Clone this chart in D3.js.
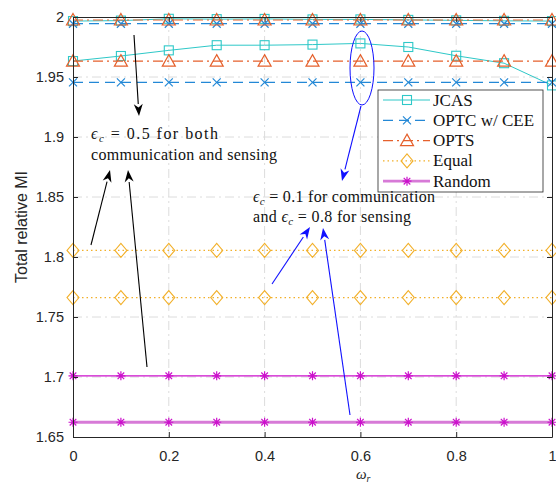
<!DOCTYPE html>
<html><head><meta charset="utf-8">
<script src="https://cdn.jsdelivr.net/npm/d3@7"></script>
<style>body{margin:0;background:#fff}svg{display:block}</style>
</head><body><svg id="c" width="556" height="485"></svg>
<script>
// ---- data ----
const omega = [0,0.1,0.2,0.3,0.4,0.5,0.6,0.7,0.8,0.9,1];
const xTicks = [0,0.2,0.4,0.6,0.8,1];
const xTickLabels = ["0","0.2","0.4","0.6","0.8","1"];
const yTicks = [1.65,1.7,1.75,1.8,1.85,1.9,1.95,2];
const yTickLabels = ["1.65","1.7","1.75","1.8","1.85","1.9","1.95","2"];
const seriesNames = ["JCAS","OPTC w/ CEE","OPTS","Equal","Random"];
// eps_c = 0.5 (upper group) and eps_c = 0.1/0.8 (lower group)
const jcasA   = [1.9966,1.9970,1.9985,1.9982,1.9984,1.9980,1.9980,1.9976,1.9972,1.9968,1.9966];
const jcasB   = [1.9633,1.9675,1.9722,1.9765,1.9765,1.9770,1.9780,1.9750,1.9677,1.9615,1.9430];
const optcA   = [1.9944,1.9944,1.9944,1.9944,1.9944,1.9944,1.9944,1.9944,1.9944,1.9944,1.9944];
const optcB   = [1.9455,1.9455,1.9455,1.9455,1.9455,1.9455,1.9455,1.9455,1.9455,1.9455,1.9455];
const optsA   = [1.9975,1.9975,1.9975,1.9975,1.9975,1.9975,1.9975,1.9975,1.9975,1.9975,1.9975];
const optsB   = [1.9632,1.9632,1.9632,1.9632,1.9632,1.9632,1.9632,1.9632,1.9632,1.9632,1.9632];
const equalA  = [1.8055,1.8055,1.8055,1.8055,1.8055,1.8055,1.8055,1.8055,1.8055,1.8055,1.8055];
const equalB  = [1.7662,1.7662,1.7662,1.7662,1.7662,1.7662,1.7662,1.7662,1.7662,1.7662,1.7662];
const randomA = [1.7010,1.7010,1.7010,1.7010,1.7010,1.7010,1.7010,1.7010,1.7010,1.7010,1.7010];
const randomB = [1.6623,1.6623,1.6623,1.6623,1.6623,1.6623,1.6623,1.6623,1.6623,1.6623,1.6623];

// ---- layout ----
const svg = d3.select("#c");
const L = 73, R = 552, T = 17, B = 437;
const x = d3.scaleLinear().domain([0,1]).range([L,R]);
const y = d3.scaleLinear().domain([1.65,2]).range([B,T]);

const C = {jcas:"#2ec8c8", optc:"#2388d6", opts:"#e5602c", equal:"#f2b02a", rand:"#cc11cc", randL:"#d77ad7"};

// grid
const grid = svg.append("g");
grid.selectAll(".gx").data(xTicks.slice(1,-1)).join("line")
  .attr("x1",d=>x(d)).attr("x2",d=>x(d)).attr("y1",T).attr("y2",B)
  .attr("stroke","#dcdcdc").attr("stroke-dasharray","9,4,2,4");
grid.selectAll(".gy").data(yTicks.slice(1,-1)).join("line")
  .attr("y1",d=>y(d)).attr("y2",d=>y(d)).attr("x1",L).attr("x2",R)
  .attr("stroke","#dcdcdc").attr("stroke-dasharray","9,4,2,4");

// markers
function marker(g, type, cx, cy, col){
  if(type==="square"){
    g.append("rect").attr("x",cx-4.5).attr("y",cy-4.5).attr("width",9).attr("height",9)
      .attr("fill","none").attr("stroke",col).attr("stroke-width",1.1);
  } else if(type==="x"){
    g.append("path").attr("d",`M${cx-4},${cy-4}L${cx+4},${cy+4}M${cx-4},${cy+4}L${cx+4},${cy-4}`)
      .attr("stroke",col).attr("stroke-width",1.2);
  } else if(type==="tri"){
    g.append("path").attr("d",`M${cx},${cy-6.5}L${cx+6.5},${cy+5}L${cx-6.5},${cy+5}Z`)
      .attr("fill","none").attr("stroke",col).attr("stroke-width",1.2);
  } else if(type==="diamond"){
    g.append("path").attr("d",`M${cx},${cy-7}L${cx+6},${cy}L${cx},${cy+7}L${cx-6},${cy}Z`)
      .attr("fill","none").attr("stroke",col).attr("stroke-width",1.1);
  } else if(type==="star"){
    g.append("path").attr("d",`M${cx-4.5},${cy}L${cx+4.5},${cy}M${cx},${cy-4.5}L${cx},${cy+4.5}M${cx-3.3},${cy-3.3}L${cx+3.3},${cy+3.3}M${cx-3.3},${cy+3.3}L${cx+3.3},${cy-3.3}`)
      .attr("stroke",col).attr("stroke-width",1.2);
  }
}
const lineGen = d3.line().x((d,i)=>x(omega[i])).y(d=>y(d));
function series(vals, col, dash, width, mtype, mcol){
  const g = svg.append("g");
  g.append("path").attr("d",lineGen(vals)).attr("fill","none").attr("stroke",col)
    .attr("stroke-width",width).attr("stroke-dasharray",dash||null);
  vals.forEach((v,i)=>marker(g, mtype, x(omega[i]), y(v), mcol||col));
}
series(jcasA, C.jcas, null, 1, "square");
series(jcasB, C.jcas, null, 1, "square");
series(optcA, C.optc, "10,6", 1.2, "x");
series(optcB, C.optc, "10,6", 1.2, "x");
series(optsA, C.opts, "10,4,2,4", 1.2, "tri");
series(optsB, C.opts, "10,4,2,4", 1.2, "tri");
series(equalA, C.equal, "1.5,3", 1.3, "diamond");
series(equalB, C.equal, "1.5,3", 1.3, "diamond");
series(randomA, C.rand, null, 1.2, "star");
series(randomB, C.randL, null, 2.8, "star", C.rand);

// axes (box, inward ticks, mirrored)
const ax = svg.append("g");
ax.append("g").attr("transform",`translate(0,${B})`)
  .call(d3.axisBottom(x).tickValues(xTicks).tickFormat((d,i)=>xTickLabels[i]).tickSizeInner(-5).tickSizeOuter(0).tickPadding(14));
ax.append("g").attr("transform",`translate(0,${T})`)
  .call(d3.axisTop(x).tickValues(xTicks).tickFormat("").tickSizeInner(-5).tickSizeOuter(0));
ax.append("g").attr("transform",`translate(${L},0)`)
  .call(d3.axisLeft(y).tickValues(yTicks).tickFormat((d,i)=>yTickLabels[i]).tickSizeInner(-5).tickSizeOuter(0).tickPadding(9));
ax.append("g").attr("transform",`translate(${R},0)`)
  .call(d3.axisRight(y).tickValues(yTicks).tickFormat("").tickSizeInner(-5).tickSizeOuter(0));
ax.selectAll(".domain").attr("stroke","#262626");
ax.selectAll(".tick line").attr("stroke","#262626");
ax.selectAll(".tick text").attr("font-family","'Liberation Sans',Arial,sans-serif").attr("font-size",14.5).attr("fill","#262626");

// axis labels
svg.append("text").attr("transform",`translate(27,${(T+B)/2}) rotate(-90)`)
  .attr("text-anchor","middle").attr("font-family","'Liberation Sans',Arial,sans-serif")
  .attr("font-size",16).attr("fill","#262626").text("Total relative MI");
const xl = svg.append("text").attr("x",356).attr("y",479).attr("font-family","'Liberation Serif',serif")
  .attr("font-size",15).attr("fill","#262626");
xl.append("tspan").attr("font-style","italic").text("ω");
xl.append("tspan").attr("font-style","italic").attr("font-size",10).attr("dy",3).text("r");

// legend
const lg = svg.append("g");
lg.append("rect").attr("x",378).attr("y",90).attr("width",165).attr("height",102)
  .attr("fill","#fff").attr("stroke","#262626").attr("stroke-width",0.8);
const legItems = [
  {col:C.jcas, dash:null, w:1, m:"square"},
  {col:C.optc, dash:"10,6", w:1.2, m:"x"},
  {col:C.opts, dash:"10,4,2,4", w:1.2, m:"tri"},
  {col:C.equal, dash:"1.5,3", w:1.3, m:"diamond"},
  {col:C.randL, dash:null, w:2.8, m:"star", mc:C.rand}
];
legItems.forEach((it,i)=>{
  const yy = 100 + i*20.3;
  lg.append("line").attr("x1",383).attr("x2",430).attr("y1",yy).attr("y2",yy)
    .attr("stroke",it.col).attr("stroke-width",it.w).attr("stroke-dasharray",it.dash);
  marker(lg, it.m, 407, yy, it.mc||it.col);
  lg.append("text").attr("x",433).attr("y",yy+5.5).attr("font-family","'Liberation Serif',serif")
    .attr("font-size",17).attr("fill","#111").text(seriesNames[i]);
});

// annotations
function eqText(xp, yp, before, after, len){
  const t = svg.append("text").attr("x",xp).attr("y",yp).attr("font-family","'Liberation Serif',serif")
    .attr("font-size",16).attr("fill","#111")
    .attr("textLength",len).attr("lengthAdjust","spacing");
  if(before) t.append("tspan").text(before);
  t.append("tspan").attr("font-style","italic").text("ϵ");
  t.append("tspan").attr("font-style","italic").attr("font-size",11).attr("dy",3).text("c");
  t.append("tspan").attr("dy",-3).text(after);
}
function plainText(xp, yp, s, len){
  svg.append("text").attr("x",xp).attr("y",yp).attr("font-family","'Liberation Serif',serif")
    .attr("font-size",16).attr("fill","#111")
    .attr("textLength",len).attr("lengthAdjust","spacing").text(s);
}
eqText(91, 139, null, " = 0.5 for both", 127);
plainText(91, 160, "communication and sensing", 186);
eqText(253, 202, null, " = 0.1 for communication", 182);
eqText(253, 222, "and ", " = 0.8 for sensing", 158);

function arrow(x1,y1,x2,y2,col){
  const ang = Math.atan2(y2-y1,x2-x1), hl=12, hw=4.5;
  const bx = x2 - hl*Math.cos(ang), by = y2 - hl*Math.sin(ang);
  svg.append("line").attr("x1",x1).attr("y1",y1).attr("x2",bx).attr("y2",by)
    .attr("stroke",col).attr("stroke-width",1.1);
  const px = -Math.sin(ang)*hw, py = Math.cos(ang)*hw;
  const mx = x2 - hl*0.7*Math.cos(ang), my = y2 - hl*0.7*Math.sin(ang);
  svg.append("path").attr("d",`M${x2},${y2}L${bx+px},${by+py}L${mx},${my}L${bx-px},${by-py}Z`).attr("fill",col);
}
arrow(134,35,139,116,"#000");
arrow(91,245,110,170,"#000");
arrow(147,367,128,170,"#000");
svg.append("ellipse").attr("cx",362).attr("cy",68).attr("rx",12).attr("ry",37)
  .attr("fill","none").attr("stroke","#1010ff").attr("stroke-width",1);
arrow(361,106,342,181,"#1010ff");
arrow(272,284,310,227,"#1010ff");
arrow(350,415,323,228,"#1010ff");
</script></body></html>
